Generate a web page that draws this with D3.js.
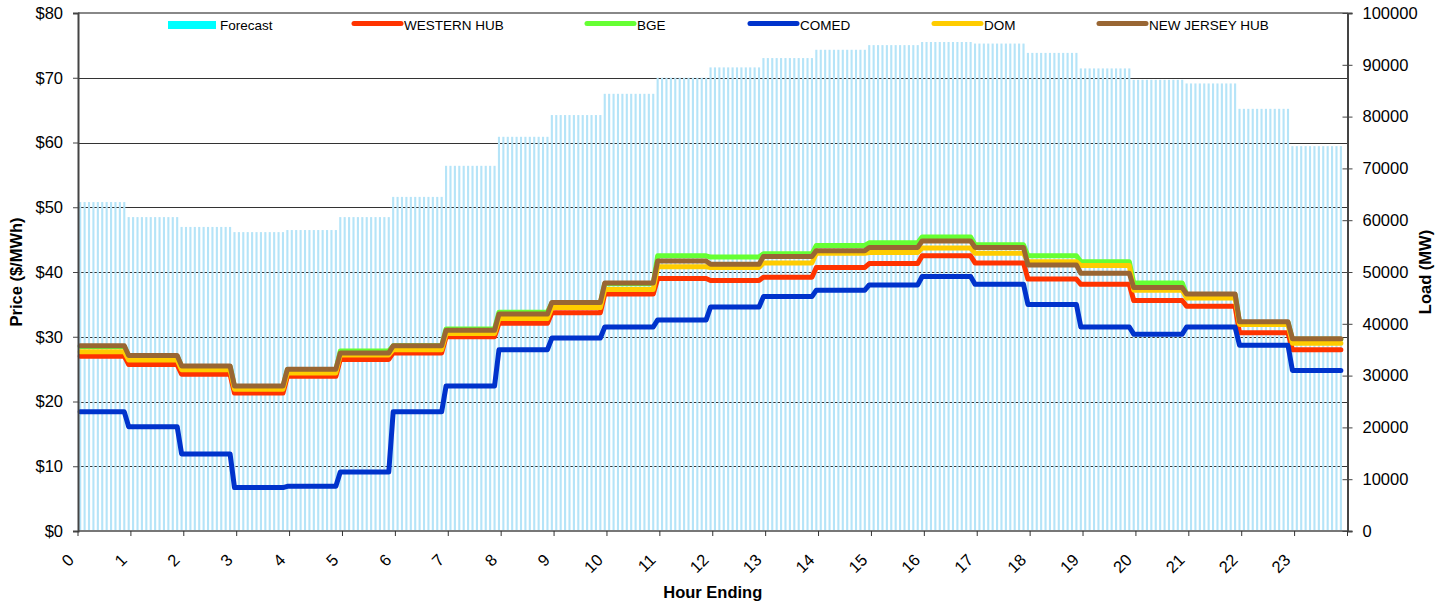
<!DOCTYPE html>
<html>
<head>
<meta charset="utf-8">
<script src="https://cdn.jsdelivr.net/npm/d3@7"></script>
<style>
  html, body { margin: 0; padding: 0; background: #fff; }
  svg { display: block; font-family: "Liberation Sans", Arial, sans-serif; }
</style>
</head>
<body>
<svg id="chart" width="1448" height="606"></svg>
<script>
// ---------------- DATA ----------------
const hourLabels = ["0","1","2","3","4","5","6","7","8","9","10","11","12","13","14","15","16","17","18","19","20","21","22","23"];
const priceTicks = [0,10,20,30,40,50,60,70,80];
const loadTicks = [0,10000,20000,30000,40000,50000,60000,70000,80000,90000,100000];

const forecastLoad = [63500,60600,58700,57700,58100,60600,64500,70500,76100,80300,84400,87500,
                      89500,91300,92900,93800,94400,94100,92300,89300,87100,86400,81500,74300];
const westernHub = [27.0,25.7,24.2,21.3,23.9,26.5,27.5,30.0,32.1,33.7,36.6,39.0,
                    38.7,39.2,40.7,41.3,42.5,41.4,38.9,38.1,35.6,34.7,30.6,28.0];
const bge        = [28.5,27.0,25.4,22.3,24.9,27.8,28.6,31.2,33.8,35.2,38.2,42.5,
                    42.3,42.8,44.1,44.5,45.4,44.2,42.5,41.6,38.3,36.5,32.2,29.6];
const comed      = [18.4,16.1,11.9,6.7,6.9,9.1,18.4,22.4,28.0,29.8,31.5,32.6,
                    34.6,36.2,37.2,38.0,39.3,38.1,35.0,31.5,30.4,31.5,28.7,24.8];
const dom        = [27.7,26.4,24.9,21.9,24.4,27.2,28.0,30.5,32.8,34.5,37.3,40.8,
                    40.7,41.4,42.9,43.0,43.7,42.9,41.6,41.0,37.2,36.0,31.9,29.0];
const njHub      = [28.6,27.1,25.5,22.4,25.0,27.5,28.6,31.0,33.5,35.3,38.3,41.7,
                    41.2,42.4,43.3,43.8,44.8,43.8,41.1,39.8,37.6,36.6,32.3,29.7];

const seriesNames  = ["WESTERN HUB","BGE","COMED","DOM","NEW JERSEY HUB"];
const seriesValues = [westernHub, bge, comed, dom, njHub];
const seriesColors = ["#ff3300","#66ff33","#0033cc","#ffcc00","#996633"];
const forecastName = "Forecast";
const forecastLegendColor = "#00ffff";
const forecastBarColor = "#b5e4f8";
const samplesPerHour = 12;

// ---------------- LAYOUT ----------------
const W = 1448, H = 606;
const plot = { left: 78, right: 1347.5, top: 13, bottom: 531 };
const svg = d3.select("#chart");

const x = d3.scaleLinear().domain([0, 24]).range([plot.left, plot.right]);
const yP = d3.scaleLinear().domain([0, 80]).range([plot.bottom, plot.top]);
const yL = d3.scaleLinear().domain([0, 100000]).range([plot.bottom, plot.top]);

// 5-minute samples (hour-ending data); each sample carries its hour index
const samples = [];
for (let h = 0; h < 24; h++) {
  for (let m = 0; m < samplesPerHour; m++) {
    const k = h * samplesPerHour + m - 1;
    if (k < 0) continue;
    samples.push({ t: (k + 0.5) / samplesPerHour, h });
  }
}

// gridlines (behind the bars)
svg.append("g").selectAll("line")
  .data(priceTicks.filter(v => v > 0 && v < 80))
  .join("line")
  .attr("x1", plot.left).attr("x2", plot.right)
  .attr("y1", d => Math.round(yP(d)) + 0.5).attr("y2", d => Math.round(yP(d)) + 0.5)
  .attr("stroke", "#333").attr("stroke-width", 1);

// forecast bars
const slotW = x(1 / samplesPerHour) - x(0);
const barW = slotW * 0.48;
svg.append("g").selectAll("rect")
  .data(samples)
  .join("rect")
  .attr("x", d => x(d.t) - barW / 2)
  .attr("width", barW)
  .attr("y", d => yL(forecastLoad[d.h]))
  .attr("height", d => plot.bottom - yL(forecastLoad[d.h]))
  .attr("fill", forecastBarColor);

// top border
svg.append("line")
  .attr("x1", plot.left).attr("x2", plot.right)
  .attr("y1", plot.top).attr("y2", plot.top)
  .attr("stroke", "#888").attr("stroke-width", 2);

// price lines
const lineGen = vals => d3.line().x(d => x(d.t)).y(d => yP(vals[d.h]));
seriesValues.forEach((vals, i) => {
  svg.append("path")
    .datum(samples)
    .attr("d", lineGen(vals))
    .attr("fill", "none")
    .attr("stroke", seriesColors[i])
    .attr("stroke-width", 5)
    .attr("stroke-linejoin", "round")
    .attr("stroke-linecap", "round");
});

// bottom axis line
svg.append("line")
  .attr("x1", plot.left).attr("x2", plot.right)
  .attr("y1", plot.bottom).attr("y2", plot.bottom)
  .attr("stroke", "#777").attr("stroke-width", 2);

// left axis
const leftAxis = d3.axisLeft(yP).tickValues(priceTicks).tickSize(5).tickPadding(10)
  .tickFormat(d => "$" + d);
const gL = svg.append("g").attr("transform", `translate(${plot.left},0)`).call(leftAxis);
gL.select(".domain").attr("stroke", "#444").attr("stroke-width", 2);
gL.selectAll(".tick line").attr("stroke", "#444");
gL.selectAll(".tick text").attr("font-size", 16.5).attr("fill", "#000")
  .attr("font-family", "Liberation Sans, Arial, sans-serif");

// right axis
const rightAxis = d3.axisRight(yL).tickValues(loadTicks).tickSize(5).tickPadding(10)
  .tickFormat(d3.format("d"));
const gR = svg.append("g").attr("transform", `translate(${plot.right},0)`).call(rightAxis);
gR.select(".domain").attr("stroke", "#444").attr("stroke-width", 2);
gR.selectAll(".tick line").attr("stroke", "#444").attr("x1", -5);
gR.selectAll(".tick text").attr("font-size", 16.5).attr("fill", "#000")
  .attr("font-family", "Liberation Sans, Arial, sans-serif");

// bottom axis ticks & labels
const xTicks = d3.range(0, 25);
const gB = svg.append("g");
gB.selectAll("line").data(xTicks).join("line")
  .attr("x1", d => x(d)).attr("x2", d => x(d))
  .attr("y1", plot.bottom).attr("y2", plot.bottom + 5)
  .attr("stroke", "#333").attr("stroke-width", 1);
gB.selectAll("text").data(hourLabels).join("text")
  .attr("transform", (d, i) => `translate(${x(i) - 3},${plot.bottom + 30}) rotate(-45)`)
  .attr("text-anchor", "end")
  .attr("font-size", 16.5)
  .attr("fill", "#000")
  .text(d => d);

// axis titles
svg.append("text")
  .attr("transform", `translate(22,${(plot.top + plot.bottom) / 2}) rotate(-90)`)
  .attr("text-anchor", "middle").attr("font-weight", "bold").attr("font-size", 16.5)
  .text("Price ($/MWh)");
svg.append("text")
  .attr("transform", `translate(1431,${(plot.top + plot.bottom) / 2}) rotate(-90)`)
  .attr("text-anchor", "middle").attr("font-weight", "bold").attr("font-size", 16.5)
  .text("Load (MW)");
svg.append("text")
  .attr("x", x(12)).attr("y", 598)
  .attr("text-anchor", "middle").attr("font-weight", "bold").attr("font-size", 16.5)
  .text("Hour Ending");

// legend
const legendX = [168, 352, 585, 748, 932, 1097];
const legendItems = [{ name: forecastName, color: forecastLegendColor, bar: true }]
  .concat(seriesNames.map((n, i) => ({ name: n, color: seriesColors[i], bar: false })));
const gLeg = svg.append("g");
legendItems.forEach((it, i) => {
  const lx = legendX[i];
  if (it.bar) {
    gLeg.append("rect").attr("x", lx).attr("y", 21).attr("width", 48).attr("height", 8)
      .attr("fill", it.color);
  } else {
    gLeg.append("line").attr("x1", lx + 2).attr("x2", lx + 49).attr("y1", 23.5).attr("y2", 23.5)
      .attr("stroke", it.color).attr("stroke-width", 5).attr("stroke-linecap", "round");
  }
  gLeg.append("text").attr("x", lx + 52).attr("y", 29.5)
    .attr("font-size", 13.5).attr("fill", "#000").text(it.name);
});
</script>
</body>
</html>
